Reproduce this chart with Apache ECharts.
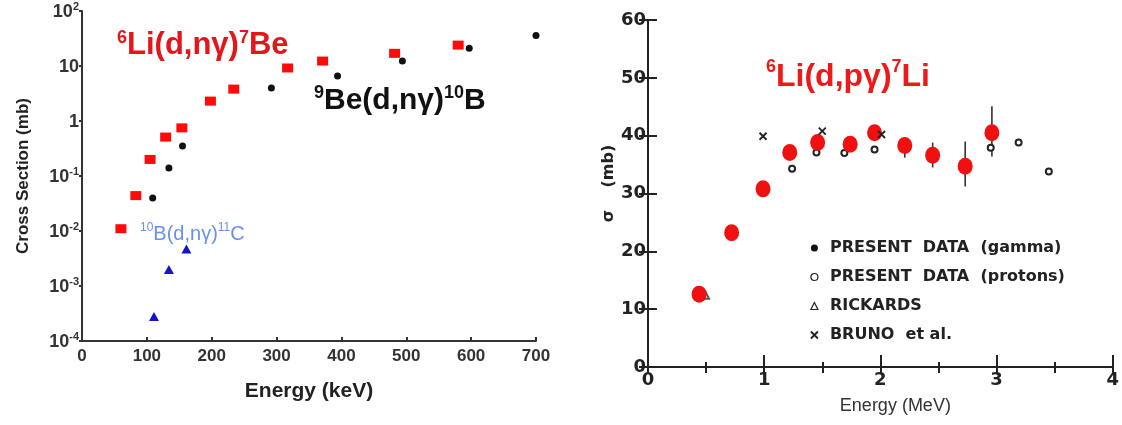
<!DOCTYPE html>
<html>
<head>
<meta charset="utf-8">
<script src="https://cdn.jsdelivr.net/npm/echarts@6/dist/echarts.min.js"></script>
<style>
  html, body { margin: 0; padding: 0; background: #fff; }
  #chart { width: 1122px; height: 425px; }
</style>
</head>
<body>
<div id="chart"></div>
<script>
// ---------- left panel: cross section (mb) vs energy (keV) ----------
const liBeEnergy = [60, 83, 105, 129, 154, 198, 234, 317, 371, 482, 580];
const liBeSigma  = [0.011, 0.044, 0.20, 0.51, 0.75, 2.3, 3.8, 9.2, 12.3, 17, 24];
const beBEnergy  = [109, 134, 155, 292, 394, 494, 597, 700];
const beBSigma   = [0.04, 0.14, 0.35, 4.0, 6.6, 12.3, 21, 36];
const bCEnergy   = [111, 134, 161];
const bCSigma    = [0.00028, 0.0020, 0.0047];
const keVTicks   = [0, 100, 200, 300, 400, 500, 600, 700];
const logDecades = [-4, -3, -2, -1, 0, 1, 2];

// ---------- right panel: sigma (mb) vs energy (MeV) ----------
const gammaE  = [0.44, 0.72, 0.99, 1.22, 1.46, 1.74, 1.95, 2.21, 2.45, 2.73, 2.96];
const gammaS  = [12.6, 23.2, 30.8, 37.1, 38.8, 38.5, 40.5, 38.3, 36.6, 34.7, 40.5];
const protonE = [1.24, 1.45, 1.69, 1.95, 2.95, 3.19, 3.45];
const protonS = [34.3, 37.1, 37.0, 37.6, 37.9, 38.8, 33.8];
const rickE   = [0.5];
const rickS   = [12.3];
const brunoE  = [0.99, 1.5, 2.01];
const brunoS  = [39.9, 40.8, 40.2];
// error bars on the gamma points: energy, low, high
const errE  = [2.21, 2.45, 2.73, 2.96];
const errLo = [36.2, 34.5, 31.2, 36.4];
const errHi = [39.5, 38.8, 39.0, 45.1];
const mevTicks = [0, 1, 2, 3, 4];
const sigmaTicks = [0, 10, 20, 30, 40, 50, 60];

const legendNames = [
  'PRESENT  DATA  (gamma)',
  'PRESENT  DATA  (protons)',
  'RICKARDS',
  'BRUNO  et al.'
];

function pairs(xs, ys) {
  return xs.map((x, i) => [x, ys[i]]);
}

const red = '#f01010';
const ink = '#222';
const leftFont = 'Liberation Sans';
const rightFont = 'DejaVu Sans';

const chart = echarts.init(document.getElementById('chart'));

chart.setOption({
  backgroundColor: '#fff',
  animation: false,
  grid: [
    { left: 82, top: 11, width: 454, height: 330 },
    { left: 648, top: 20, width: 465, height: 347 }
  ],
  xAxis: [
    {
      gridIndex: 0, type: 'value',
      min: keVTicks[0], max: keVTicks[keVTicks.length - 1], interval: 100,
      name: 'Energy (keV)', nameLocation: 'middle', nameGap: 40,
      nameTextStyle: { fontSize: 21, fontWeight: 'bold', color: ink, fontFamily: leftFont },
      axisLine: { lineStyle: { color: '#333', width: 2 } },
      axisTick: { inside: true, length: 4, lineStyle: { color: '#333', width: 2 } },
      axisLabel: { fontSize: 17, fontWeight: 'bold', color: '#333', fontFamily: leftFont, margin: 7 },
      splitLine: { show: false }
    },
    {
      gridIndex: 1, type: 'value',
      min: mevTicks[0], max: mevTicks[mevTicks.length - 1], interval: 1,
      name: 'Energy (MeV)', nameLocation: 'middle', nameGap: 30,
      nameTextStyle: { fontSize: 18, color: '#333', fontFamily: leftFont, padding: [0, 0, 0, 30] },
      axisLine: { lineStyle: { color: ink, width: 2 } },
      axisTick: { inside: true, length: 12, lineStyle: { color: ink, width: 2 } },
      minorTick: { show: true, splitNumber: 2, length: 5, lineStyle: { color: ink, width: 2 } },
      axisLabel: { fontSize: 18, fontWeight: 'bold', color: ink, fontFamily: rightFont, margin: 4 },
      splitLine: { show: false }
    },
    {
      gridIndex: 1, type: 'value', position: 'top',
      min: 0, max: 4, interval: 0.5,
      axisLine: { lineStyle: { color: ink, width: 2 } },
      axisTick: { inside: true, length: 6, lineStyle: { color: ink, width: 2 } },
      axisLabel: { show: false },
      splitLine: { show: false }
    }
  ],
  yAxis: [
    {
      gridIndex: 0, type: 'log', logBase: 10,
      min: Math.pow(10, logDecades[0]), max: Math.pow(10, logDecades[logDecades.length - 1]),
      name: 'Cross Section (mb)', nameLocation: 'middle', nameGap: 50,
      nameTextStyle: { fontSize: 17, fontWeight: 'bold', color: ink, fontFamily: leftFont },
      axisLine: { lineStyle: { color: '#333', width: 2 } },
      axisTick: { inside: false, length: 3, lineStyle: { color: '#333', width: 2 } },
      axisLabel: {
        margin: 3, color: '#333', fontFamily: leftFont,
        formatter: function (v) {
          const e = Math.round(Math.log10(v));
          if (e === 0) return '{b|1}';
          if (e === 1) return '{b|10}';
          return '{b|10}{s|' + (e < 0 ? '-' : '') + Math.abs(e) + '}';
        },
        rich: {
          b: { fontSize: 18, fontWeight: 'bold', color: '#333', fontFamily: leftFont, lineHeight: 20, verticalAlign: 'bottom' },
          s: { fontSize: 11, fontWeight: 'bold', color: '#333', fontFamily: leftFont, verticalAlign: 'top' }
        }
      },
      splitLine: { show: false }
    },
    {
      gridIndex: 1, type: 'value',
      min: sigmaTicks[0], max: sigmaTicks[sigmaTicks.length - 1], interval: 10,
      name: 'σ    (mb)', nameLocation: 'middle', nameGap: 30,
      nameTextStyle: { fontSize: 16, fontWeight: 'bold', color: ink, fontFamily: rightFont, padding: [0, 0, 0, 20] },
      axisLine: { lineStyle: { color: ink, width: 2 } },
      axisTick: { inside: true, length: 9, lineStyle: { color: ink, width: 2 } },
      axisLabel: { fontSize: 18, fontWeight: 'bold', color: ink, fontFamily: rightFont, margin: 2 },
      splitLine: { show: false }
    },
    {
      gridIndex: 1, type: 'value', position: 'right',
      min: 0, max: 60, interval: 10,
      axisLine: { lineStyle: { color: ink, width: 2 } },
      axisTick: { inside: true, length: 9, lineStyle: { color: ink, width: 2 } },
      axisLabel: { show: false },
      splitLine: { show: false }
    }
  ],
  legend: {
    orient: 'vertical', left: 805, top: 234,
    itemWidth: 7, itemHeight: 7, itemGap: 11,
    selectedMode: false,
    textStyle: { fontSize: 16, fontWeight: 'bold', color: ink, fontFamily: rightFont, lineHeight: 18, padding: [0, 0, 0, 7] },
    data: [
      { name: legendNames[0], icon: 'circle', itemStyle: { color: '#111', borderWidth: 0 } },
      { name: legendNames[1], icon: 'circle', itemStyle: { color: '#fff', borderColor: ink, borderWidth: 1.2 } },
      { name: legendNames[2], icon: 'triangle', itemStyle: { color: '#fff', borderColor: ink, borderWidth: 1.2 } },
      { name: legendNames[3], icon: 'path://M0,0L10,10M10,0L0,10', itemStyle: { color: 'rgba(0,0,0,0)', borderColor: ink, borderWidth: 1.8 } }
    ]
  },
  graphic: [
    {
      type: 'text', left: 117, top: 29,
      style: {
        text: '{s|6}{b|Li(d,nγ)}{s|7}{b|Be}',
        rich: {
          b: { fontSize: 31, fontWeight: 'bold', fill: '#e3161c', fontFamily: leftFont, lineHeight: 32, verticalAlign: 'bottom' },
          s: { fontSize: 18, fontWeight: 'bold', fill: '#e3161c', fontFamily: leftFont, verticalAlign: 'top' }
        }
      }
    },
    {
      type: 'text', left: 314, top: 84,
      style: {
        text: '{s|9}{b|Be(d,nγ)}{s|10}{b|B}',
        rich: {
          b: { fontSize: 30, fontWeight: 'bold', fill: '#111', fontFamily: leftFont, lineHeight: 32, verticalAlign: 'bottom' },
          s: { fontSize: 18, fontWeight: 'bold', fill: '#111', fontFamily: leftFont, verticalAlign: 'top' }
        }
      }
    },
    {
      type: 'text', left: 140, top: 222,
      style: {
        text: '{s|10}{b|B(d,nγ)}{s|11}{b|C}',
        rich: {
          b: { fontSize: 20, fill: '#6b8ff0', fontFamily: leftFont, lineHeight: 22, verticalAlign: 'bottom' },
          s: { fontSize: 12, fill: '#6b8ff0', fontFamily: leftFont, verticalAlign: 'top' }
        }
      }
    },
    {
      type: 'text', left: 766, top: 58,
      style: {
        text: '{s|6}{b|Li(d,pγ)}{s|7}{b|Li}',
        rich: {
          b: { fontSize: 32, fontWeight: 'bold', fill: '#ee1a1a', fontFamily: leftFont, lineHeight: 35, verticalAlign: 'bottom' },
          s: { fontSize: 18, fontWeight: 'bold', fill: '#ee1a1a', fontFamily: leftFont, verticalAlign: 'top' }
        }
      }
    }
  ],
  series: [
    // left panel
    {
      name: 'liBe', type: 'scatter', xAxisIndex: 0, yAxisIndex: 0,
      symbol: 'rect', symbolSize: [11, 9],
      itemStyle: { color: '#ff0a0a', opacity: 1 },
      data: pairs(liBeEnergy, liBeSigma)
    },
    {
      name: 'beB', type: 'scatter', xAxisIndex: 0, yAxisIndex: 0,
      symbol: 'circle', symbolSize: 7,
      itemStyle: { color: '#111', opacity: 1 },
      data: pairs(beBEnergy, beBSigma)
    },
    {
      name: 'bC', type: 'scatter', xAxisIndex: 0, yAxisIndex: 0,
      symbol: 'triangle', symbolSize: [10, 9],
      itemStyle: { color: '#1414c8', opacity: 1 },
      data: pairs(bCEnergy, bCSigma)
    },
    // right panel
    {
      name: 'errors', type: 'custom', xAxisIndex: 1, yAxisIndex: 1, z: 1,
      data: errE.map((e, i) => [e, errLo[i], errHi[i]]),
      renderItem: function (params, api) {
        const p1 = api.coord([api.value(0), api.value(1)]);
        const p2 = api.coord([api.value(0), api.value(2)]);
        return {
          type: 'line',
          shape: { x1: p1[0], y1: p1[1], x2: p2[0], y2: p2[1] },
          style: { stroke: '#333', lineWidth: 1.6 }
        };
      }
    },
    {
      name: legendNames[1], type: 'scatter', xAxisIndex: 1, yAxisIndex: 1, z: 2,
      symbol: 'emptyCircle', symbolSize: 6,
      itemStyle: { color: ink, borderColor: ink, borderWidth: 1.3, opacity: 1 },
      data: pairs(protonE, protonS)
    },
    {
      name: legendNames[2], type: 'scatter', xAxisIndex: 1, yAxisIndex: 1, z: 2,
      symbol: 'emptyTriangle', symbolSize: 6,
      itemStyle: { color: '#555', borderColor: '#555', borderWidth: 1.2, opacity: 1 },
      data: pairs(rickE, rickS)
    },
    {
      name: legendNames[0], type: 'scatter', xAxisIndex: 1, yAxisIndex: 1, z: 3,
      symbol: 'circle', symbolSize: [15, 17],
      itemStyle: { color: red, opacity: 1 },
      data: pairs(gammaE, gammaS)
    },
    {
      name: legendNames[3], type: 'scatter', xAxisIndex: 1, yAxisIndex: 1, z: 4,
      symbol: 'path://M0,0L10,10M10,0L0,10', symbolSize: 7,
      itemStyle: { color: 'rgba(0,0,0,0)', borderColor: ink, borderWidth: 1.8, opacity: 1 },
      data: pairs(brunoE, brunoS)
    }
  ]
});
</script>
</body>
</html>
